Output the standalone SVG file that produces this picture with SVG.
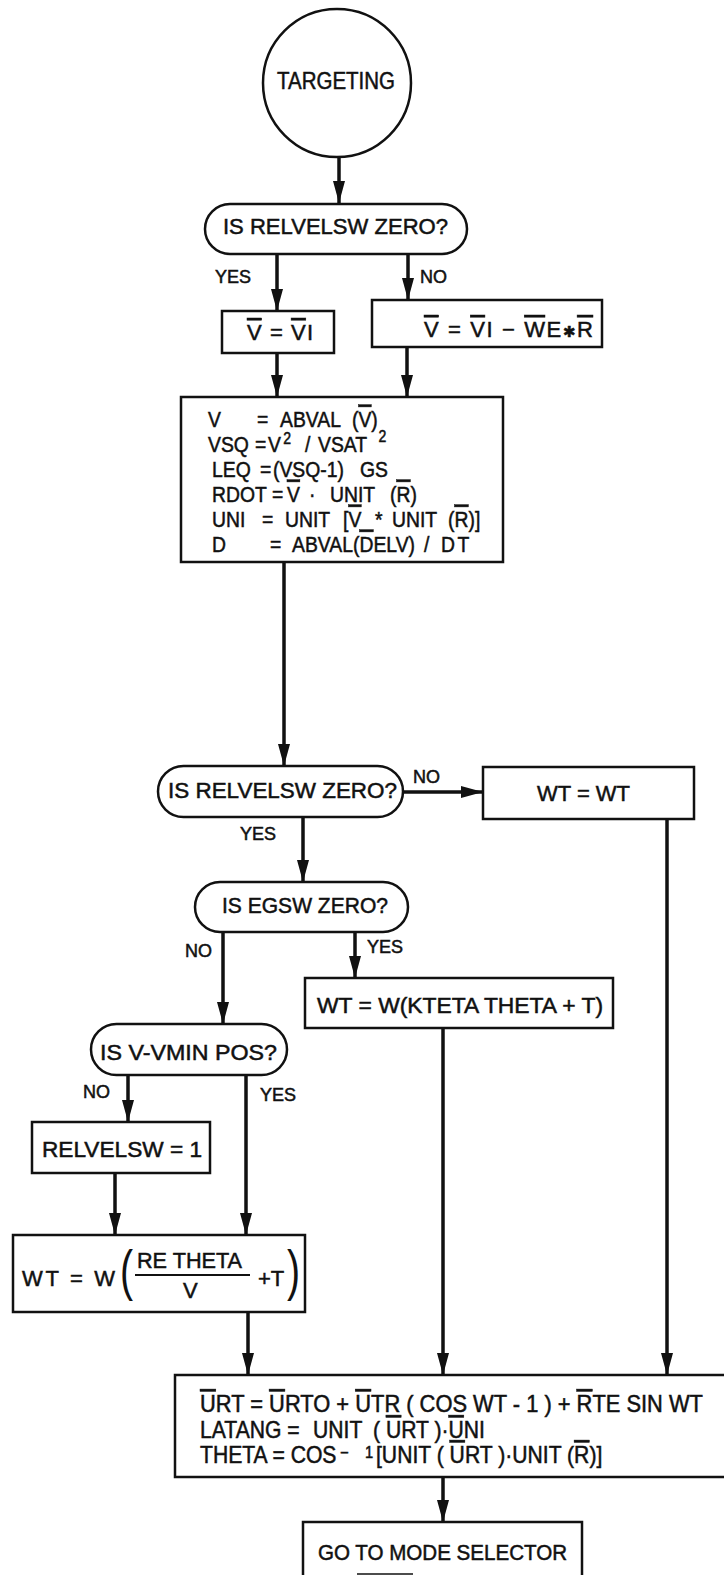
<svg xmlns="http://www.w3.org/2000/svg" width="724" height="1575" viewBox="0 0 724 1575">
<defs>
<style>
.n{fill:#fff;stroke:#111;stroke-width:2.5}
.c{fill:none;stroke:#111;stroke-width:3.5;marker-end:url(#ah)}
.t{font-family:"Liberation Sans",Arial,sans-serif;font-size:22px;fill:#111;stroke:#111;stroke-width:0.5}
.b{font-size:23px}
.l{font-size:18px}
.sup{font-size:16px}
.o{text-decoration:overline}
.p{stroke:none;font-size:56px}
.sym{font-family:"DejaVu Sans",sans-serif;font-size:15px}
</style>
<marker id="ah" markerUnits="userSpaceOnUse" markerWidth="24" markerHeight="12" refX="22" refY="6" orient="auto"><path d="M0,0 L22,6 L0,12 z" fill="#111"/></marker>
</defs>
<rect width="724" height="1575" fill="#fff"/>

<g id="connectors">
<path class="c" d="M339,157 V203"/>
<path class="c" d="M277,254 V311"/>
<path class="c" d="M408,254 V300"/>
<path class="c" d="M277,353 V397"/>
<path class="c" d="M407,347 V397"/>
<path class="c" d="M284,562 V766"/>
<path class="c" d="M403,792 H483"/>
<path class="c" d="M303,817 V882"/>
<path class="c" d="M223,932 V1024"/>
<path class="c" d="M355,932 V978"/>
<path class="c" d="M128,1075 V1122"/>
<path class="c" d="M246,1075 V1235"/>
<path class="c" d="M115,1173 V1235"/>
<path class="c" d="M248,1312 V1375"/>
<path class="c" d="M443,1028 V1375"/>
<path class="c" d="M667,819 V1375"/>
<path class="c" d="M443,1477 V1522"/>
<text class="t l" x="215" y="283">YES</text>
<text class="t l" x="420" y="283">NO</text>
<text class="t l" x="413" y="783">NO</text>
<text class="t l" x="240" y="840">YES</text>
<text class="t l" x="185" y="957">NO</text>
<text class="t l" x="367" y="953">YES</text>
<text class="t l" x="83" y="1098">NO</text>
<text class="t l" x="260" y="1101">YES</text>
</g>

<g id="n-targeting">
<circle class="n" cx="337" cy="83" r="74"/>
<text class="t b" x="277" y="89" textLength="118" lengthAdjust="spacingAndGlyphs">TARGETING</text>
</g>

<g id="n-q1">
<rect class="n" x="205" y="204" width="262" height="50" rx="25"/>
<text class="t" x="223" y="234" textLength="225" lengthAdjust="spacingAndGlyphs">IS RELVELSW ZERO?</text>
</g>

<g id="n-v1">
<rect class="n" x="222" y="311" width="112" height="42"/>
<text class="t" x="247" y="340" textLength="66" lengthAdjust="spacing"><tspan class="o">V</tspan> = <tspan class="o">V</tspan>I</text>
</g>

<g id="n-v2">
<rect class="n" x="372" y="300" width="230" height="47"/>
<text class="t" x="424" y="337" textLength="169" lengthAdjust="spacing"><tspan class="o">V</tspan> = <tspan class="o">V</tspan>I − <tspan class="o">W</tspan>E<tspan class="sym">✱</tspan><tspan class="o">R</tspan></text>
</g>

<g id="n-calc">
<rect class="n" x="181" y="397" width="322" height="165"/>
<g transform="scale(0.88,1)">
<text class="t" y="427"><tspan x="236.4">V</tspan><tspan x="292">=</tspan><tspan x="318.2">ABVAL</tspan><tspan x="400">(<tspan class="o">V</tspan>)</tspan></text>
<text class="t" y="452"><tspan x="236.4">VSQ</tspan><tspan x="289.8">=</tspan><tspan x="304.5">V</tspan><tspan x="322" dy="-8" class="sup">2</tspan><tspan x="346.6" dy="8">/</tspan><tspan x="361.4">VSAT</tspan><tspan x="430" dy="-10" class="sup">2</tspan></text>
<text class="t" y="477"><tspan x="240.9">LEQ</tspan><tspan x="295.5">=</tspan><tspan x="310.2">(VSQ-1)</tspan><tspan x="409.1">GS</tspan></text>
<text class="t" y="502"><tspan x="240.9">RDOT</tspan><tspan x="309.1">=</tspan><tspan x="326.1" class="o">V</tspan><tspan x="351.1">·</tspan><tspan x="375">UNIT</tspan><tspan x="443.2">(<tspan class="o">R</tspan>)</tspan></text>
<text class="t" y="527"><tspan x="240.9">UNI</tspan><tspan x="297.7">=</tspan><tspan x="323.9">UNIT</tspan><tspan x="389.8">[<tspan class="o">V</tspan></tspan><tspan x="426.1">*</tspan><tspan x="445.5">UNIT</tspan><tspan x="509.1">(<tspan class="o">R</tspan>)]</tspan></text>
<text class="t" y="552"><tspan x="240.9">D</tspan><tspan x="306.8">=</tspan><tspan x="331.8">ABVAL</tspan><tspan x="401.1">(<tspan class="o">D</tspan>ELV)</tspan><tspan x="481.8">/</tspan><tspan x="501.1" letter-spacing="3">DT</tspan></text>
</g>
</g>

<g id="n-q2">
<rect class="n" x="158" y="766" width="245" height="51" rx="25.5"/>
<text class="t" x="168" y="798" textLength="229" lengthAdjust="spacingAndGlyphs">IS RELVELSW ZERO?</text>
</g>

<g id="n-wt0">
<rect class="n" x="483" y="767" width="211" height="52"/>
<text class="t" x="537" y="801" textLength="93" lengthAdjust="spacingAndGlyphs">WT = WT</text>
</g>

<g id="n-q3">
<rect class="n" x="195" y="882" width="213" height="50" rx="25"/>
<text class="t" x="222" y="913" textLength="166" lengthAdjust="spacingAndGlyphs">IS EGSW ZERO?</text>
</g>

<g id="n-wt1">
<rect class="n" x="305" y="978" width="308" height="50"/>
<text class="t" x="317" y="1013" textLength="286" lengthAdjust="spacingAndGlyphs">WT = W(KTETA THETA + T)</text>
</g>

<g id="n-q4">
<rect class="n" x="91" y="1024" width="196" height="51" rx="25.5"/>
<text class="t" x="100" y="1060" textLength="177" lengthAdjust="spacingAndGlyphs">IS V-VMIN POS?</text>
</g>

<g id="n-rel">
<rect class="n" x="32" y="1122" width="178" height="51"/>
<text class="t" x="42" y="1157" textLength="160" lengthAdjust="spacingAndGlyphs">RELVELSW = 1</text>
</g>

<g id="n-wt2">
<rect class="n" x="13" y="1235" width="292" height="77"/>
<text class="t" x="22" y="1286" textLength="93" lengthAdjust="spacing">WT = W</text>
<text class="t p" transform="translate(120,1289) scale(0.7,1)">(</text>
<text class="t" x="137" y="1268" textLength="105" lengthAdjust="spacingAndGlyphs">RE THETA</text>
<path d="M135,1275 H250" stroke="#111" stroke-width="2"/>
<text class="t" x="183" y="1298">V</text>
<text class="t" x="258" y="1286">+T</text>
<text class="t p" transform="translate(287,1289) scale(0.7,1)">)</text>
</g>

<g id="n-urt">
<rect class="n" x="175" y="1375" width="560" height="102"/>
<g transform="scale(0.92,1)">
<text class="t b" x="217.4" y="1412" textLength="546.7" lengthAdjust="spacingAndGlyphs"><tspan class="o">U</tspan>RT = <tspan class="o">U</tspan>RTO + <tspan class="o">U</tspan>TR ( COS WT - 1 ) + <tspan class="o">R</tspan>TE SIN WT</text>
<text class="t b" y="1438"><tspan x="217.4">LATANG =</tspan><tspan x="340.2">UNIT</tspan><tspan x="405.4">( <tspan class="o">U</tspan>RT )·<tspan class="o">U</tspan>NI</tspan></text>
<text class="t b" y="1463"><tspan x="217.4">THETA = COS</tspan><tspan x="369.6" dy="-5" class="sup">−</tspan><tspan x="396.7" class="sup">1</tspan><tspan x="408.7" dy="5">[UNIT ( <tspan class="o">U</tspan>RT )·UNIT (<tspan class="o">R</tspan>)]</tspan></text>
</g>
</g>

<g id="n-goto">
<rect class="n" x="303" y="1522" width="279" height="80"/>
<text class="t" x="318" y="1560" textLength="249" lengthAdjust="spacingAndGlyphs">GO TO MODE SELECTOR</text>
<path d="M357,1574 H413" stroke="#111" stroke-width="1.5"/>
</g>
</svg>
